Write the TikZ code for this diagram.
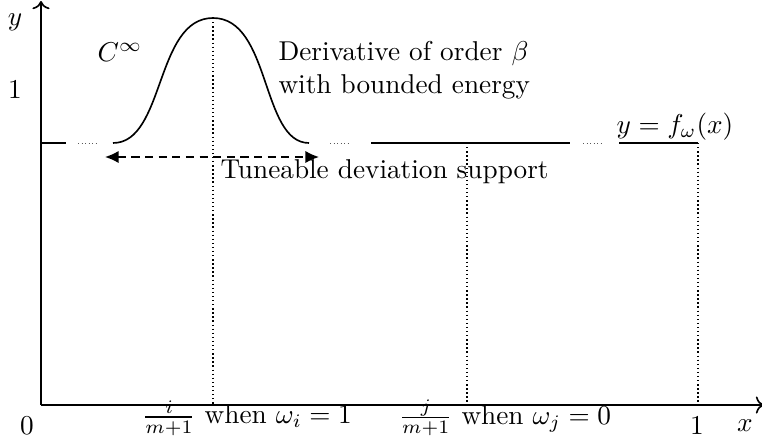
\documentclass[tikz,border=0pt]{standalone}
\usetikzlibrary{arrows.meta}
\begin{document}
\begin{tikzpicture}[x=0.367pt,y=-0.367pt,
  axis/.style={line width=0.6pt,-{To[length=3pt]}},
  fline/.style={line width=0.6pt},
  gapdots/.style={densely dotted,line width=0.3pt,gray!70!black},
  guide/.style={densely dotted,line width=0.5pt},
  supp/.style={densely dashed,line width=0.6pt,{Latex[length=5pt,width=4.5pt]}-{Latex[length=5pt,width=4.5pt]}},
  lbl/.style={inner sep=0pt}]
\useasboundingbox (0,0) rectangle (762,442);
% axes
\coordinate (O) at (41,405);
\coordinate (Ytop) at (41,1);
\coordinate (Xend) at (764,405);
\draw[axis] (O) -- (Ytop);
\draw[axis] (O) -- (Xend);
% function pieces
\coordinate (a0) at (41,143); \coordinate (a1) at (66,143);
\coordinate (b0) at (78,143); \coordinate (b1) at (99,143);
\coordinate (h0) at (113,143); \coordinate (hp) at (213,18); \coordinate (h1) at (309,143);
\coordinate (c0) at (330,143); \coordinate (c1) at (350,143);
\coordinate (d0) at (371,143); \coordinate (d1) at (570,143);
\coordinate (e0) at (583,143); \coordinate (e1) at (603,143);
\coordinate (f0) at (619,143); \coordinate (f1) at (698,143);
\draw[fline] (a0) -- (a1);
\draw[gapdots] (b0) -- (b1);
\draw[fline] (h0) .. controls (165,143) and (155,18) .. (hp)
  .. controls (271,18) and (261,143) .. (h1);
\draw[gapdots] (c0) -- (c1);
\draw[fline] (d0) -- (d1);
\draw[gapdots] (e0) -- (e1);
\draw[fline] (f0) -- (f1);
% guides
\coordinate (g1) at (213,405);
\coordinate (g2t) at (467,143); \coordinate (g2) at (467,405);
\coordinate (g3) at (698,405);
\draw[guide] (hp) -- (g1);
\draw[guide] (g2t) -- (g2);
\draw[guide] (f1) -- (g3);
% support arrow
\coordinate (s0) at (105,157); \coordinate (s1) at (319,157);
\draw[supp] (s0) -- (s1);
% labels
\node[lbl] (ly) at (15,22) {$y$};
\node[lbl] (l1) at (15,90) {$1$};
\node[lbl] (lc) at (120,52) {$C^\infty$};
\node[lbl,anchor=west,align=left] (ld) at (278,70) {Derivative of order $\beta$\\with bounded energy};
\node[lbl,anchor=west] (lt) at (220,172) {Tuneable deviation support};
\node[lbl] (lf) at (675,127) {$y=f_\omega(x)$};
\node[lbl] (l0) at (27,426) {$0$};
\node[lbl] (li) at (247,418) {$\frac{i}{m+1}$ when $\omega_i=1$};
\node[lbl] (lj) at (505,418) {$\frac{j}{m+1}$ when $\omega_j=0$};
\node[lbl] (lone) at (697,426) {$1$};
\node[lbl] (lx) at (745,426) {$x$};
\end{tikzpicture}
\end{document}
